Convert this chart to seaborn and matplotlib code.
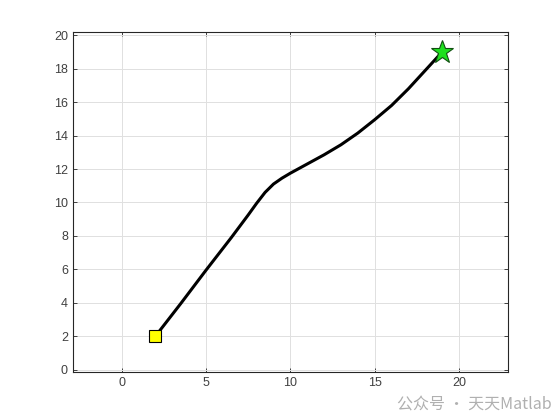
import numpy as np
import pandas as pd
import matplotlib
matplotlib.use("Agg")
import matplotlib.pyplot as plt
import seaborn as sns

# path points
path_x = [2.0, 3.5, 5.0, 6.5, 7.5, 8.0, 8.5, 9.0, 9.5, 10.0, 11.0, 12.0, 13.0,
          14.0, 15.0, 16.0, 17.0, 18.0, 19.0]
path_y = [2.0, 3.95, 5.95, 7.9, 9.25, 9.95, 10.6, 11.1, 11.45, 11.75, 12.3, 12.85,
          13.45, 14.15, 14.95, 15.8, 16.8, 17.9, 19.0]
start_pt = (2, 2)
goal_pt = (19, 19)
x_ticks = [0, 5, 10, 15, 20]
y_ticks = [0, 2, 4, 6, 8, 10, 12, 14, 16, 18, 20]

sns.set_style("ticks")
plt.rcParams['font.family'] = ['Liberation Sans', 'Noto Sans CJK SC', 'DejaVu Sans']
plt.rcParams['xtick.direction'] = 'in'
plt.rcParams['ytick.direction'] = 'in'

fig = plt.figure(figsize=(5.6, 4.2), dpi=100)
ax = fig.add_axes([0.130, 0.114, 0.777, 0.810])

df = pd.DataFrame({'x': path_x, 'y': path_y})
sns.lineplot(data=df, x='x', y='y', sort=False, color='black', linewidth=2.2, ax=ax, zorder=3)
ax.lines[-1].set_solid_joinstyle('round')
ax.plot(*start_pt, marker='s', markersize=8.5, markerfacecolor='#ffff00',
        markeredgecolor='black', markeredgewidth=0.8, zorder=4)
ax.plot(*goal_pt, marker='*', markersize=17, markerfacecolor='#1ee01e',
        markeredgecolor='#105010', markeredgewidth=0.8, zorder=4)

ax.set_xlim(-2.9, 22.9)
ax.set_ylim(-0.15, 20.2)
ax.set_xticks(x_ticks)
ax.set_yticks(y_ticks)
ax.grid(True, color='#e0e0e0', linewidth=0.7)
ax.set_axisbelow(True)
for s in ax.spines.values():
    s.set_visible(True)
    s.set_color('#262626')
    s.set_linewidth(0.8)
ax.tick_params(labelsize=9, colors='#262626', length=3, width=0.6, top=True, right=True)
ax.tick_params(labelcolor='#404040')
ax.set_xlabel('')
ax.set_ylabel('')

fig.text(0.985, 0.035, '公众号 · 天天Matlab', ha='right', va='center',
         color='#b0b0b0', fontsize=11.5, family=['Noto Sans CJK SC', 'DejaVu Sans'])

fig.savefig('out.png', dpi=100)
